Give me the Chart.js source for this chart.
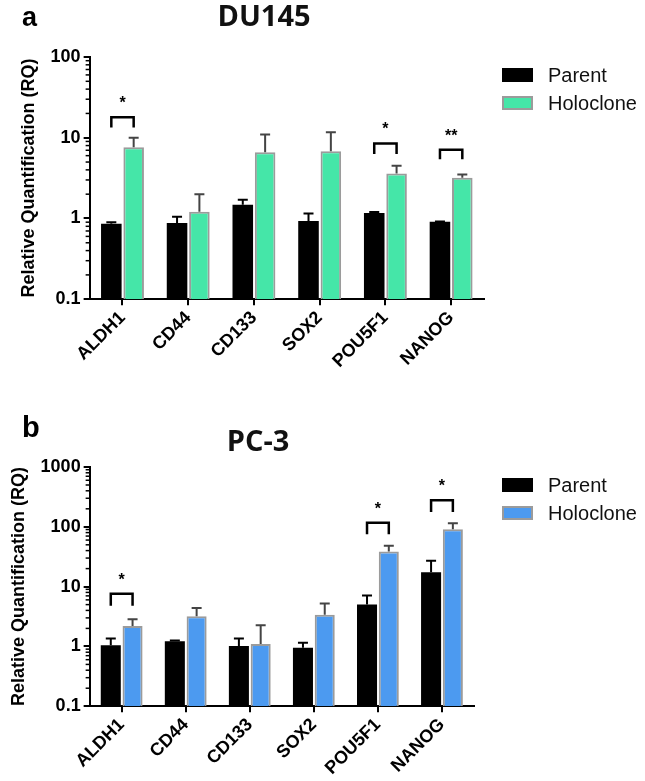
<!DOCTYPE html>
<html>
<head>
<meta charset="utf-8">
<script src="https://cdn.jsdelivr.net/npm/chart.js@4.4.0/dist/chart.umd.min.js"></script>
<style>
  body { margin: 0; background: #fff; }
  #page { position: relative; width: 645px; height: 781px; overflow: hidden; }
  canvas { position: absolute; left: 0; }
  .panel-letter { position: absolute; font-family: 'Liberation Sans', Arial, sans-serif; font-weight: bold; color: #000; }
  .panel-title { position: absolute; width: 200px; text-align: center; font-family: 'Open Sans', sans-serif; font-weight: bold; color: #111; }
  .legend { position: absolute; left: 502px; font-family: 'Liberation Sans', Arial, sans-serif; font-size: 20px; color: #111; }
  .legend-item { display: flex; align-items: center; height: 28px; white-space: nowrap; }
  .legend-box { display: inline-block; width: 31px; height: 14px; box-sizing: border-box; border-style: solid; margin-right: 15px; }
</style>
</head>
<body>
<div id="page">
  <canvas id="chartA" width="645" height="390" style="top:0"></canvas>
  <canvas id="chartB" width="645" height="391" style="top:390px"></canvas>
  <div class="panel-letter" style="left:22px; top:4px; font-size:27px; line-height:27px;">a</div>
  <div class="panel-title" style="left:164px; top:0px; font-size:29px; line-height:29px;">DU145</div>
  <div class="panel-letter" style="left:22px; top:413px; font-size:29px; line-height:29px;">b</div>
  <div class="panel-title" style="left:158px; top:425px; font-size:29px; line-height:29px;">PC-3</div>
  <div id="legendA" class="legend" style="top:61px"></div>
  <div id="legendB" class="legend" style="top:471px"></div>
</div>
<script>
// Categorías y series
const genes = ['ALDH1', 'CD44', 'CD133', 'SOX2', 'POU5F1', 'NANOG'];
const seriesNames = ['Parent', 'Holoclone'];

// DU145: valores (RQ) y extremo superior de la barra de error
const du145Parent = [0.86, 0.88, 1.48, 0.93, 1.17, 0.91];
const du145ParentErr = [0.9, 1.05, 1.7, 1.15, 1.2, 0.92];
const du145Holo = [7.6, 1.21, 6.6, 6.8, 3.6, 3.2];
const du145HoloErr = [10.0, 2.0, 11.0, 11.7, 4.5, 3.5];
const du145Sig = ['*', '', '', '', '*', '**'];
const du145BracketTop = [17.9, null, null, null, 8.5, 7.1];
const du145BracketLeg = [13.4, null, null, null, 6.3, 5.4];
const du145YTicks = [0.1, 1, 10, 100];

// PC-3
const pc3Parent = [1.05, 1.22, 1.02, 0.95, 5.0, 17.4];
const pc3ParentErr = [1.36, 1.25, 1.36, 1.15, 7.1, 27];
const pc3Holo = [2.2, 3.2, 1.1, 3.4, 38.7, 91];
const pc3HoloErr = [2.84, 4.4, 2.26, 5.2, 48, 115];
const pc3Sig = ['*', '', '', '', '*', '*'];
const pc3BracketTop = [7.6, null, null, null, 117, 279];
const pc3BracketLeg = [4.8, null, null, null, 75, 176];
const pc3YTicks = [0.1, 1, 10, 100, 1000];

// marcas menores del eje logarítmico
const minorSteps = [2, 3, 4, 5, 6, 7, 8, 9];

const FONT = "'Liberation Sans', Arial, sans-serif";
Chart.defaults.color = '#000';

// Leyenda en HTML, generada con las etiquetas del propio Chart.js
const htmlLegend = {
    id: 'htmlLegend',
    afterUpdate(chart, args, options) {
        const box = document.getElementById(options.containerID);
        box.innerHTML = '';
        const items = chart.options.plugins.legend.labels.generateLabels(chart);
        items.forEach(item => {
            const row = document.createElement('div');
            row.className = 'legend-item';
            const sw = document.createElement('span');
            sw.className = 'legend-box';
            sw.style.background = item.fillStyle;
            sw.style.borderColor = item.strokeStyle;
            sw.style.borderWidth = (item.lineWidth || 0) + 'px';
            const txt = document.createElement('span');
            txt.textContent = item.text;
            row.appendChild(sw);
            row.appendChild(txt);
            box.appendChild(row);
        });
    }
};

function makeChart(canvasId, cfg) {
    const ctx = document.getElementById(canvasId).getContext('2d');

    // Dibuja barras de error, corchetes de significancia y marcas menores
    const extras = {
        id: 'extras',
        afterDraw(chart) {
            const c = chart.ctx;
            const y = chart.scales.y;
            const area = chart.chartArea;
            c.save();

            // barras de error (solo hacia arriba)
            cfg.errors.forEach((tops, di) => {
                const meta = chart.getDatasetMeta(di);
                c.strokeStyle = cfg.errColors[di];
                c.lineWidth = 2;
                meta.data.forEach((bar, i) => {
                    const yTop = y.getPixelForValue(tops[i]);
                    c.beginPath();
                    c.moveTo(bar.x, bar.y);
                    c.lineTo(bar.x, yTop);
                    c.moveTo(bar.x - 5, yTop);
                    c.lineTo(bar.x + 5, yTop);
                    c.stroke();
                });
            });

            // corchetes
            const m0 = chart.getDatasetMeta(0);
            const m1 = chart.getDatasetMeta(1);
            c.strokeStyle = '#000';
            c.fillStyle = '#000';
            c.lineWidth = 2.5;
            c.font = 'bold 16px ' + FONT;
            c.textAlign = 'center';
            c.textBaseline = 'alphabetic';
            cfg.sig.forEach((s, i) => {
                if (!s) return;
                const x1 = m0.data[i].x;
                const x2 = m1.data[i].x;
                const yT = y.getPixelForValue(cfg.bracketTop[i]);
                const yL = y.getPixelForValue(cfg.bracketLeg[i]);
                c.beginPath();
                c.moveTo(x1, yL);
                c.lineTo(x1, yT);
                c.lineTo(x2, yT);
                c.lineTo(x2, yL);
                c.stroke();
                c.fillText(s, (x1 + x2) / 2, yT - 9);
            });

            // marcas menores
            c.lineWidth = 1.5;
            for (let k = 0; k < cfg.yTicks.length - 1; k++) {
                minorSteps.forEach(m => {
                    const py = y.getPixelForValue(cfg.yTicks[k] * m);
                    c.beginPath();
                    c.moveTo(area.left - 4, py);
                    c.lineTo(area.left, py);
                    c.stroke();
                });
            }
            c.restore();
        }
    };

    const tickFont = { family: FONT, size: 18, weight: 'bold' };

    return new Chart(ctx, {
        type: 'bar',
        data: {
            labels: genes,
            datasets: [
                {
                    label: seriesNames[0],
                    data: cfg.parent,
                    backgroundColor: '#000',
                    borderColor: '#000',
                    borderWidth: 0,
                    categoryPercentage: 0.68,
                    barPercentage: 0.92
                },
                {
                    label: seriesNames[1],
                    data: cfg.holo,
                    backgroundColor: cfg.color,
                    borderColor: '#9b9b9b',
                    borderWidth: 2,
                    categoryPercentage: 0.68,
                    barPercentage: 0.92
                }
            ]
        },
        options: {
            responsive: false,
            animation: false,
            layout: { padding: cfg.padding },
            plugins: {
                legend: { display: false },
                htmlLegend: { containerID: cfg.legendId },
                tooltip: { enabled: false }
            },
            scales: {
                x: {
                    grid: { display: true, drawOnChartArea: false, offset: false, tickLength: 6, color: '#000', lineWidth: 2 },
                    border: { display: true, color: '#000', width: 2 },
                    ticks: { font: tickFont, color: '#000', minRotation: 45, maxRotation: 45, padding: 2, autoSkip: false }
                },
                y: {
                    type: 'logarithmic',
                    min: cfg.yTicks[0],
                    max: cfg.yTicks[cfg.yTicks.length - 1],
                    afterBuildTicks: (scale) => {
                        scale.ticks = cfg.yTicks.map(v => ({ value: v, major: true }));
                    },
                    ticks: { font: tickFont, color: '#000', padding: 3, autoSkip: false, callback: v => String(v) },
                    grid: { display: true, drawOnChartArea: false, tickLength: 6, color: '#000', lineWidth: 2 },
                    border: { display: true, color: '#000', width: 2 },
                    title: {
                        display: true,
                        text: 'Relative Quantification (RQ)',
                        color: '#000',
                        font: { family: FONT, size: 18, weight: 'bold' },
                        padding: { top: 0, bottom: 8 }
                    }
                }
            }
        },
        plugins: [extras, htmlLegend]
    });
}

makeChart('chartA', {
    parent: du145Parent,
    holo: du145Holo,
    errors: [du145ParentErr, du145HoloErr],
    errColors: ['#000', '#444'],
    sig: du145Sig,
    bracketTop: du145BracketTop,
    bracketLeg: du145BracketLeg,
    yTicks: du145YTicks,
    color: '#45E6A8',
    legendId: 'legendA',
    padding: { top: 57, left: 18, right: 161, bottom: 16 }
});

makeChart('chartB', {
    parent: pc3Parent,
    holo: pc3Holo,
    errors: [pc3ParentErr, pc3HoloErr],
    errColors: ['#000', '#444'],
    sig: pc3Sig,
    bracketTop: pc3BracketTop,
    bracketLeg: pc3BracketLeg,
    yTicks: pc3YTicks,
    color: '#4C9AF0',
    legendId: 'legendB',
    padding: { top: 77, left: 8, right: 171, bottom: 0 }
});
</script>
</body>
</html>
